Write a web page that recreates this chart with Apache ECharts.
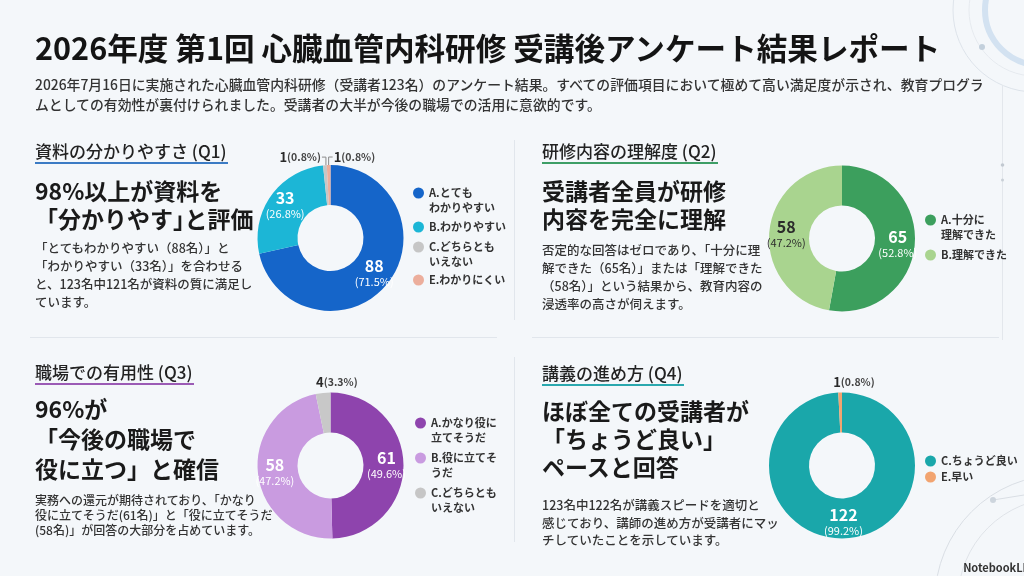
<!DOCTYPE html>
<html lang="ja">
<head>
<meta charset="utf-8">
<title>2026年度 第1回 心臓血管内科研修 受講後アンケート結果レポート</title>
<script src="https://cdn.jsdelivr.net/npm/echarts@6.0.0/dist/echarts.min.js"></script>
<style>
  html, body { margin: 0; padding: 0; }
  body {
    width: 1024px; height: 576px; overflow: hidden;
    background: #f4f7fa;
    font-family: "Noto Sans CJK JP", "Noto Sans", sans-serif;
    color: #222;
  }
  #page { position: relative; width: 1024px; height: 576px; }
  #chart { position: absolute; left: 0; top: 0; width: 1024px; height: 576px; }
  .txt { position: absolute; white-space: nowrap; }
  .title { left: 35px; top: 28px; font-size: 30.6px; line-height: 38px; font-weight: 700; color: #141414; }
  .lead { left: 35px; top: 74px; font-size: 13.85px; line-height: 20px; font-weight: 500; color: #333; }
  .q { font-size: 17px; line-height: 22px; font-weight: 500; color: #222; padding-right: 2px; border-bottom: 2px solid; }
  .head { font-size: 23px; font-weight: 700; color: #1a1a1a; }
  .body { font-size: 12.5px; line-height: 18px; font-weight: 500; color: #333; }
  .tight { letter-spacing: -0.5em; }
  .rule-h { position: absolute; height: 1px; background: #e1e6ec; }
  .rule-v { position: absolute; width: 1px; background: #e1e6ec; }
  .mark { right: -8px; top: 559px; font-size: 11px; line-height: 16px; font-weight: 700; color: #333; }
</style>
</head>
<body>
<div id="page">
  <div id="chart"></div>

  <div class="rule-h" style="left:30px; top:337px; width:467px;"></div>
  <div class="rule-h" style="left:532px; top:337px; width:467px;"></div>
  <div class="rule-v" style="left:514px; top:140px; height:180px;"></div>
  <div class="rule-v" style="left:514px; top:357px; height:185px;"></div>

  <div class="txt title">2026年度 第1回 心臓血管内科研修 受講後アンケート結果レポート</div>
  <div class="txt lead">2026年7月16日に実施された心臓血管内科研修（受講者123名）のアンケート結果。すべての評価項目において極めて高い満足度が示され、教育プログラ<br>ムとしての有効性が裏付けられました。受講者の大半が今後の職場での活用に意欲的です。</div>

  <!-- Q1 -->
  <div class="txt q" style="left:35px; top:140px; border-color:#3b7bc4;">資料の分かりやすさ (Q1)</div>
  <div class="txt head" style="left:35px; top:176px; line-height:28px;">98%以上が資料を<br>「分かりやす<span class="tight">」</span>と評価</div>
  <div class="txt body" style="left:35px; top:239px;">「とてもわかりやすい（88名）」と<br>「わかりやすい（33名）」を合わせる<br>と、123名中121名が資料の質に満足し<br>ています。</div>

  <!-- Q2 -->
  <div class="txt q" style="left:542px; top:140px; border-color:#3d9e66;">研修内容の理解度 (Q2)</div>
  <div class="txt head" style="left:542px; top:176px; line-height:28px;">受講者全員が研修<br>内容を完全に理解</div>
  <div class="txt body" style="left:542px; top:241px;">否定的な回答はゼロであり、「十分に理<br>解できた（65名）」または「理解できた<br>（58名）」という結果から、教育内容の<br>浸透率の高さが伺えます。</div>

  <!-- Q3 -->
  <div class="txt q" style="left:35px; top:361px; border-color:#9b5bb5;">職場での有用性 (Q3)</div>
  <div class="txt head" style="left:35px; top:393px; line-height:30px;">96%が<br>「今後の職場で<br>役に立つ」と確信</div>
  <div class="txt body" style="left:35px; top:492px; font-size:12px; line-height:15px;">実務への還元が期待されており、「かなり<br>役に立てそうだ(61名)」と「役に立てそうだ<br>(58名)」が回答の大部分を占めています。</div>

  <!-- Q4 -->
  <div class="txt q" style="left:542px; top:362px; border-color:#2aa8ae;">講義の進め方 (Q4)</div>
  <div class="txt head" style="left:542px; top:396px; line-height:28px;">ほぼ全ての受講者が<br>「ちょうど良い」<br>ペースと回答</div>
  <div class="txt body" style="left:542px; top:496px; line-height:17.5px;">123名中122名が講義スピードを適切と<br>感じており、講師の進め方が受講者にマッ<br>チしていたことを示しています。</div>

  <div class="txt mark">NotebookLM</div>
</div>

<script>
// Q1 資料の分かりやすさ
const q1Names = ["A.とても\nわかりやすい", "B.わかりやすい", "C.どちらとも\nいえない", "E.わかりにくい"];
const q1Values = [88, 33, 1, 1];

// Q2 研修内容の理解度
const q2Names = ["A.十分に\n理解できた", "B.理解できた"];
const q2Values = [65, 58];

// Q3 職場での有用性
const q3Names = ["A.かなり役に\n立てそうだ", "B.役に立てそ\nうだ", "C.どちらとも\nいえない"];
const q3Values = [61, 58, 4];

// Q4 講義の進め方
const q4Names = ["C.ちょうど良い", "E.早い"];
const q4Values = [122, 1];

const FONT = '"Noto Sans CJK JP", "Noto Sans", sans-serif';

const q1Colors = ["#1565c9", "#1cb6d6", "#c6c6c6", "#ecae9c"];
const q2Colors = ["#3c9f5d", "#a9d48f"];
const q3Colors = ["#8e44ad", "#c99be0", "#c8c8c8"];
const q4Colors = ["#1aa7aa", "#f2a470"];

/**
 * ドーナツ1つ分の series
 * small: 外側ラベルにする項目の置き方 (left / right / top)
 */
function donut(names, values, colors, textColors, center, small) {
  const total = values.reduce((s, v) => s + v, 0);
  const pct = (v) => ((v / total) * 100).toFixed(1);
  return {
    type: "pie",
    center: center,
    radius: [33, 73],
    startAngle: 90,
    clockwise: true,
    avoidLabelOverlap: false,
    animation: false,
    emphasis: { disabled: true },
    label: {
      fontFamily: FONT,
      formatter: (p) => {
        if (small[p.dataIndex]) {
          return "{sn|" + p.value + "}{sp|(" + pct(p.value) + "%)}";
        }
        return "{n|" + p.value + "}\n{p|(" + pct(p.value) + "%)}";
      },
      rich: {
        n: { fontSize: 16, fontWeight: 600, lineHeight: 18, fontFamily: FONT },
        p: { fontSize: 11, lineHeight: 14, fontFamily: FONT },
        sn: { fontSize: 13, fontWeight: 700, color: "#2a2a2a", fontFamily: FONT },
        sp: { fontSize: 10.5, fontWeight: 600, color: "#444", fontFamily: FONT },
      },
    },
    labelLine: { show: false },
    data: values.map((v, i) => {
      const item = { name: names[i], value: v, itemStyle: { color: colors[i] } };
      if (small[i]) {
        item.label = { position: "outside" };
        item.labelLine = {
          show: small[i] !== "top",
          lineStyle: { color: "#8a8a8a", width: 1 },
        };
      } else {
        item.label = { position: "inside", color: textColors[i] };
      }
      return item;
    }),
    labelLayout: (p) => {
      const side = small[p.dataIndex];
      if (!side) {
        return {};
      }
      const ax = p.rect.x + p.rect.width / 2;
      const ay = p.rect.y;
      if (side === "left") {
        return {
          x: ax - 5, y: ay - 8, align: "right", verticalAlign: "middle",
          labelLinePoints: [[ax, ay], [ax, ay - 8], [ax - 4, ay - 8]],
        };
      }
      if (side === "right") {
        return {
          x: ax + 5, y: ay - 8, align: "left", verticalAlign: "middle",
          labelLinePoints: [[ax, ay], [ax, ay - 8], [ax + 4, ay - 8]],
        };
      }
      return { x: ax - 7, y: ay - 10, align: "left", verticalAlign: "middle" };
    },
  };
}

const legendBase = {
  orient: "vertical",
  icon: "circle",
  itemWidth: 11,
  itemHeight: 11,
  padding: 0,
  selectedMode: false,
  textStyle: { fontSize: 11, lineHeight: 15, fontWeight: "bold", color: "#333", fontFamily: FONT },
  // 2行の項目は先頭に空行を足して、マーカーを1行目に揃える
  formatter: (name) => (name.indexOf("\n") >= 0 ? "\n" + name : name),
};

/**
 * 凡例を1項目ずつ置く
 * ys: 各項目の1行目の中心
 */
function legendItems(names, left, ys) {
  return names.map((name, i) => {
    const twoLine = name.indexOf("\n") >= 0;
    return Object.assign({}, legendBase, {
      data: [name],
      left: left,
      top: ys[i] - (twoLine ? 22.5 : 7.5),
    });
  });
}

const option = {
  animation: false,
  textStyle: { fontFamily: FONT },
  legend: [].concat(
    legendItems(q1Names, 413, [193, 227, 247, 280]),
    legendItems(q2Names, 925, [220, 255]),
    legendItems(q3Names, 415, [423, 458, 493]),
    legendItems(q4Names, 925, [461, 477])
  ),
  // 右上・右下の飾り
  graphic: [
    { type: "circle", silent: true, shape: { cx: 1035, cy: 10, r: 82 }, style: { fill: "none", stroke: "#dde3ea", lineWidth: 1 } },
    { type: "circle", silent: true, shape: { cx: 1035, cy: 10, r: 66 }, style: { fill: "none", stroke: "#e6eaef", lineWidth: 1 } },
    { type: "circle", silent: true, shape: { cx: 1040, cy: 10, r: 55 }, style: { fill: "none", stroke: "#d3e2f1", lineWidth: 6 } },
    { type: "circle", silent: true, shape: { cx: 982, cy: 47, r: 3 }, style: { fill: "#c3d0dc" } },
    { type: "line", silent: true, shape: { x1: 1002.5, y1: 85, x2: 1002.5, y2: 340 }, style: { stroke: "#e3e7ec", lineWidth: 1 } },
    { type: "circle", silent: true, shape: { cx: 1002.5, cy: 165, r: 1.8 }, style: { fill: "#c2c9d1" } },
    { type: "circle", silent: true, shape: { cx: 1002.5, cy: 180, r: 1.5 }, style: { fill: "#c9d0d7" } },
    { type: "circle", silent: true, shape: { cx: 1060, cy: 600, r: 125 }, style: { fill: "none", stroke: "#d9dee4", lineWidth: 1 } },
    { type: "circle", silent: true, shape: { cx: 1060, cy: 600, r: 102 }, style: { fill: "none", stroke: "#dfe3e8", lineWidth: 1 } },
    { type: "line", silent: true, shape: { x1: 993, y1: 500, x2: 1024, y2: 495 }, style: { stroke: "#d9dee4", lineWidth: 1 } },
    { type: "circle", silent: true, shape: { cx: 993, cy: 500, r: 3 }, style: { fill: "#cdd5dd" } },
  ],
  series: [
    donut(q1Names, q1Values, q1Colors, ["#fff", "#fff"], [330.5, 238], [null, null, "left", "right"]),
    donut(q2Names, q2Values, q2Colors, ["#fff", "#2b2b2b"], [842, 238.5], [null, null]),
    donut(q3Names, q3Values, q3Colors, ["#fff", "#fff"], [330.5, 465.5], [null, null, "top"]),
    donut(q4Names, q4Values, q4Colors, ["#fff"], [842, 465.5], [null, "top"]),
  ],
};

const chart = echarts.init(document.getElementById("chart"));
chart.setOption(option);
</script>
</body>
</html>
